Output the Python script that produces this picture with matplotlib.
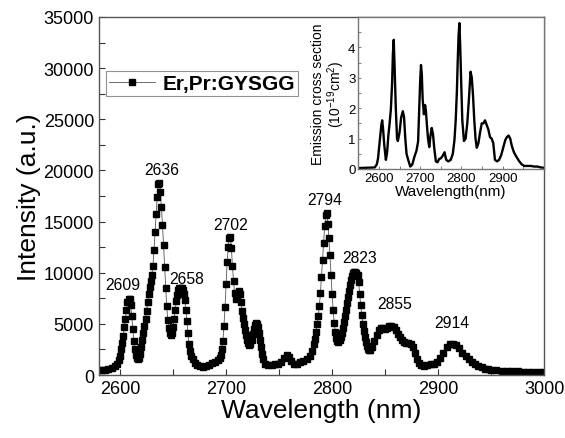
import matplotlib
matplotlib.use('Agg')
import matplotlib.pyplot as plt
from matplotlib.ticker import MultipleLocator

plt.rcParams['font.family'] = ['Liberation Sans', 'DejaVu Sans']
plt.rcParams['mathtext.fontset'] = 'custom'
plt.rcParams['mathtext.rm'] = 'Liberation Sans'
plt.rcParams['mathtext.it'] = 'Liberation Sans:italic'

# main emission spectrum (nm, a.u.)
wl = [2580, 2583, 2586, 2589, 2592, 2595, 2597, 2599, 2600, 2601, 2602, 2603, 2604, 2605,
      2606, 2607, 2608, 2609, 2610, 2611, 2612, 2613, 2614, 2615, 2616, 2617, 2618, 2619,
      2620, 2621, 2622, 2623, 2624, 2625, 2626, 2627, 2628, 2629, 2630, 2631, 2632, 2633,
      2634, 2635, 2636, 2637, 2638, 2639, 2640, 2641, 2642, 2643, 2644, 2645, 2646, 2647,
      2648, 2649, 2650, 2651, 2652, 2653, 2654, 2655, 2656, 2657, 2658, 2659, 2660, 2661,
      2662, 2663, 2664, 2665, 2666, 2667, 2669, 2671, 2673, 2675, 2678, 2681, 2684, 2687,
      2690, 2692, 2694, 2695, 2696, 2697, 2698, 2699, 2700, 2701, 2702, 2703, 2704, 2705,
      2706, 2707, 2708, 2709, 2710, 2711, 2712, 2713, 2714, 2715, 2716, 2717, 2718, 2719,
      2720, 2721, 2722, 2723, 2724, 2725, 2726, 2727, 2728, 2729, 2730, 2731, 2732, 2733,
      2734, 2735, 2737, 2740, 2743, 2746, 2749, 2752, 2755, 2757, 2759, 2761, 2764, 2767,
      2770, 2773, 2776, 2779, 2781, 2783, 2784, 2785, 2786, 2787, 2788, 2789, 2790, 2791,
      2792, 2793, 2794, 2795, 2796, 2797, 2798, 2799, 2800, 2801, 2802, 2803, 2804, 2805,
      2806, 2807, 2808, 2809, 2810, 2811, 2812, 2813, 2814, 2815, 2816, 2817, 2818, 2819,
      2820, 2821, 2822, 2823, 2824, 2825, 2826, 2827, 2828, 2829, 2830, 2831, 2832, 2833,
      2834, 2835, 2836, 2838, 2840, 2842, 2844, 2846, 2848, 2850, 2852, 2854, 2856, 2858,
      2860, 2862, 2864, 2866, 2868, 2870, 2872, 2874, 2876, 2878, 2880, 2882, 2884, 2887,
      2890, 2893, 2896, 2899, 2902, 2905, 2908, 2911, 2914, 2917, 2920, 2923, 2926, 2929,
      2932, 2935, 2938, 2941, 2944, 2947, 2950, 2955, 2960, 2965, 2970, 2975, 2980, 2985,
      2990, 2995, 3000]
intensity = [450, 450, 500, 550, 650, 850, 1100, 1500, 1900, 2500, 3100, 3800, 4700, 5500,
             6400, 7100, 7400, 7400, 6800, 5800, 4500, 3300, 2500, 2000, 1650, 1550, 1700, 2100,
             2700, 3400, 4100, 4800, 5500, 6300, 7100, 7900, 8600, 9200, 9800, 10700, 12200, 14000,
             15700, 17400, 18700, 18800, 17900, 16400, 14700, 12700, 10600, 8500, 6700, 5400, 4600, 4100,
             3900, 4100, 4700, 5500, 6400, 7200, 7800, 8300, 8500, 8550, 8500, 8300, 7900, 7300,
             6400, 5300, 4100, 3000, 2300, 1900, 1550, 1200, 950, 850, 800, 850, 1000, 1150,
             1300, 1450, 1700, 2000, 2500, 3300, 4800, 6600, 8900, 11000, 12500, 13400, 13500, 12400,
             10700, 9200, 8000, 7400, 7600, 8000, 8200, 7900, 7100, 6300, 5600, 5000, 4400, 3900,
             3400, 3100, 2950, 3000, 3400, 4000, 4500, 4900, 5050, 5000, 4700, 4100, 3400, 2700,
             2100, 1600, 1100, 950, 1000, 1050, 1100, 1300, 1700, 1950, 1800, 1350, 1050, 1100,
             1250, 1350, 1550, 1850, 2300, 3000, 3500, 4200, 5000, 5800, 6700, 8000, 9600, 11200,
             12900, 14600, 15600, 15800, 14800, 13400, 11700, 9800, 7900, 6400, 5100, 4200, 3600, 3300,
             3250, 3400, 3700, 4100, 4600, 5200, 5800, 6400, 7000, 7600, 8200, 8800, 9300, 9700,
             10000, 10100, 10100, 10000, 9800, 9100, 7900, 6800, 5900, 5000, 4300, 3700, 3200, 2800,
             2500, 2400, 2400, 2700, 3300, 3900, 4400, 4600, 4600, 4500, 4600, 4800, 4800, 4700,
             4400, 4000, 3700, 3400, 3200, 3150, 3100, 3000, 2700, 2200, 1600, 1150, 950, 900,
             1000, 1050, 1100, 1250, 1650, 2200, 2700, 3000, 3050, 2900, 2600, 2150, 1850, 1550,
             1300, 1100, 900, 750, 620, 550, 500, 450, 420, 400, 380, 360, 340, 330,
             320, 300, 290]

peak_labels = ['2609', '2636', '2658', '2702', '2794', '2823', '2855', '2914']
label_x = [2603, 2639, 2663, 2704, 2793, 2826, 2859, 2913]
label_y = [8800, 20100, 9450, 14700, 17200, 11500, 7000, 5150]

# inset: emission cross section (1e-19 cm^2)
wl_cs = [2550, 2570, 2590, 2595, 2598, 2602, 2606, 2608, 2610, 2613, 2617, 2620, 2623, 2626,
         2629, 2632, 2634, 2636, 2638, 2641, 2644, 2646, 2650, 2654, 2658, 2661, 2664, 2667,
         2671, 2676, 2681, 2686, 2691, 2695, 2698, 2700, 2702, 2704, 2706, 2709, 2712, 2714,
         2716, 2719, 2722, 2725, 2728, 2731, 2734, 2738, 2742, 2746, 2750, 2754, 2759, 2763,
         2768, 2774, 2779, 2783, 2786, 2789, 2791, 2793, 2795, 2797, 2799, 2802, 2806, 2810,
         2814, 2818, 2822, 2825, 2828, 2831, 2834, 2837, 2841, 2845, 2849, 2853, 2857, 2861,
         2865, 2869, 2873, 2877, 2881, 2886, 2891, 2896, 2901, 2906, 2910, 2914, 2918, 2922,
         2927, 2933, 2940, 2946, 2952, 2960, 2968, 2976, 2984, 2992, 3000]
cross_section = [0.03, 0.04, 0.05, 0.15, 0.35, 0.9, 1.45, 1.6, 1.35, 0.8, 0.3, 0.55, 1.1, 1.5,
                 1.95, 2.8, 3.8, 4.25, 3.4, 2.0, 1.0, 0.92, 1.2, 1.7, 1.9, 1.7, 1.0, 0.5,
                 0.3, 0.08, 0.15, 0.4, 0.6, 0.9, 2.1, 2.9, 3.42, 3.1, 2.3, 1.8, 2.1, 1.9,
                 1.5, 1.0, 0.72, 1.1, 1.35, 1.15, 0.7, 0.25, 0.22, 0.33, 0.35, 0.42, 0.55, 0.3,
                 0.25, 0.3, 0.5, 0.95, 1.6, 2.6, 3.6, 4.4, 4.8, 4.0, 3.0, 1.6, 0.92, 1.0,
                 1.5, 2.3, 3.2, 3.0, 2.4, 1.6, 1.0, 0.7, 0.85, 1.2, 1.5, 1.5, 1.6, 1.45,
                 1.3, 1.05, 1.0, 0.85, 0.3, 0.25, 0.3, 0.45, 0.7, 0.95, 1.05, 1.1, 1.0, 0.75,
                 0.55, 0.4, 0.25, 0.15, 0.1, 0.1, 0.1, 0.08, 0.08, 0.05, 0.04]

fig = plt.figure(figsize=(5.65, 4.39), dpi=100)
ax = fig.add_axes([0.175, 0.1435, 0.788, 0.8155])

ax.plot(wl, intensity, color='#555555', lw=0.6, marker='s', ms=5,
        mfc='black', mec='black', label='Er,Pr:GYSGG')
for txt, lx, ly in zip(peak_labels, label_x, label_y):
    ax.text(lx, ly, txt, fontsize=11.3, ha='center', va='center')

ax.set_xlim(2580, 3000)
ax.set_ylim(0, 35000)
ax.xaxis.set_major_locator(MultipleLocator(100))
ax.xaxis.set_minor_locator(MultipleLocator(50))
ax.yaxis.set_major_locator(MultipleLocator(5000))
ax.yaxis.set_minor_locator(MultipleLocator(2500))
ax.tick_params(which='both', direction='in', length=4, width=0.8, labelsize=13,
               top=False, right=False, color='#333333')
for sp in ax.spines.values():
    sp.set_color('#555555')
    sp.set_linewidth(1.0)
ax.set_xlabel('Wavelength (nm)', fontsize=19, labelpad=1)
ax.set_ylabel('Intensity (a.u.)', fontsize=19, labelpad=2)

leg = ax.legend(loc='upper left', bbox_to_anchor=(0.015, 0.85), fancybox=False,
                edgecolor='#777777', prop={'weight': 'bold', 'size': 15},
                handlelength=2.2, borderpad=0.15, handletextpad=0.4, borderaxespad=0)
leg.get_frame().set_linewidth(0.8)

# inset
ins = fig.add_axes([0.634, 0.6128, 0.329, 0.3462])
ins.plot(wl_cs, cross_section, color='black', lw=1.7)
ins.set_xlim(2550, 3000)
ins.set_ylim(0, 5)
ins.set_xticks([2600, 2700, 2800, 2900])
ins.yaxis.set_major_locator(MultipleLocator(1))
ins.yaxis.set_minor_locator(MultipleLocator(0.5))
ins.xaxis.set_minor_locator(MultipleLocator(50))
ins.set_yticks([0, 1, 2, 3, 4])
ins.tick_params(which='both', direction='in', length=2.5, width=0.6, labelsize=9.5,
                top=False, right=False, pad=2, color='#666666')
for sp in ins.spines.values():
    sp.set_color('#777777')
    sp.set_linewidth(1.0)
ins.set_xlabel('Wavelength(nm)', fontsize=11, labelpad=0)
ins.set_ylabel('Emission cross section\n(10$^{-19}$cm$^{2}$)', fontsize=10, labelpad=1,
               linespacing=1.0)

fig.savefig('out.png', dpi=100)
